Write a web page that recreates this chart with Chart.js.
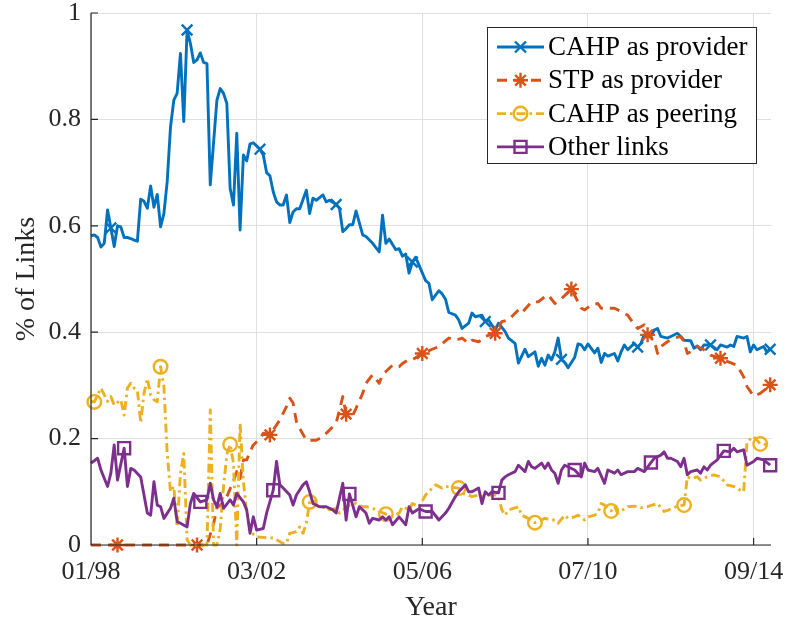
<!DOCTYPE html>
<html>
<head>
<meta charset="utf-8">
<script src="https://cdn.jsdelivr.net/npm/chart.js@4.4.1/dist/chart.umd.min.js"></script>
<style>
  html, body { margin: 0; padding: 0; background: #ffffff; }
  canvas { display: block; }
</style>
</head>
<body>
<canvas id="chart" width="787" height="620"></canvas>
<script>
// Months counted from 01/98; tick labels every 50 months.
const tickMonths = [0, 50, 100, 150, 200];
const tickLabels = ['01/98', '03/02', '05/06', '07/10', '09/14'];
const yTickValues = [0, 0.2, 0.4, 0.6, 0.8, 1];
const yTickLabels = ['0', '0.2', '0.4', '0.6', '0.8', '1'];

// CAHP as provider
const cahpMonths = [0,1,2,3,4,5,6,7,8,9,10,11,12,13,14,15,16,17,18,19,20,21,22,23,24,25,26,27,28,29,30,31,32,33,34,35,36,38,39,40,41,42,43,44,45,46,47,48,49,51,52,53,54,55,56,57,58,59,60,61,62,63,65,66,67,68,70,71,72,74,75,76,77,78,79,80,82,83,85,87,88,89,90,92,93,94,95,96,97,98,99,101,102,103,105,106,107,108,110,111,112,114,115,116,118,119,120,122,123,125,126,128,129,131,132,134,135,136,137,138,139,140,141,142,143,144,146,147,148,149,150,152,153,154,155,156,158,159,160,161,162,164,165,166,167,169,170,171,172,174,175,177,178,179,181,182,183,184,185,187,189,190,192,193,194,195,197,198,199,200,201,203,204,205];
const cahpValues = [0.581,0.583,0.578,0.560,0.567,0.630,0.596,0.561,0.600,0.598,0.578,0.578,0.576,0.573,0.571,0.650,0.646,0.633,0.675,0.635,0.659,0.598,0.623,0.683,0.786,0.836,0.849,0.924,0.796,0.968,0.943,0.907,0.912,0.925,0.907,0.905,0.677,0.836,0.858,0.849,0.830,0.670,0.639,0.774,0.592,0.733,0.722,0.754,0.756,0.744,0.733,0.700,0.694,0.664,0.645,0.639,0.639,0.658,0.606,0.626,0.632,0.632,0.667,0.623,0.652,0.648,0.658,0.645,0.648,0.640,0.633,0.589,0.595,0.602,0.602,0.628,0.583,0.580,0.567,0.551,0.620,0.567,0.575,0.555,0.557,0.543,0.547,0.511,0.532,0.541,0.526,0.497,0.492,0.461,0.478,0.472,0.462,0.437,0.432,0.423,0.407,0.417,0.436,0.429,0.432,0.420,0.423,0.404,0.417,0.401,0.389,0.379,0.342,0.368,0.354,0.363,0.336,0.351,0.338,0.357,0.348,0.363,0.389,0.349,0.343,0.333,0.353,0.378,0.376,0.367,0.378,0.361,0.370,0.343,0.360,0.355,0.360,0.346,0.363,0.376,0.367,0.379,0.372,0.379,0.395,0.392,0.404,0.407,0.392,0.389,0.392,0.398,0.392,0.385,0.384,0.370,0.374,0.367,0.376,0.376,0.367,0.376,0.372,0.376,0.373,0.392,0.389,0.392,0.363,0.376,0.367,0.373,0.363,0.368];
const cahpMarks = [6, 29, 51, 74, 97, 119, 142, 165, 187, 205];

// STP as provider
const stpMonths = [0,8,32,35,36,37,38,40,41,43,44,45,46,47,48,49,51,52,54,57,59,60,61,62,63,65,66,68,70,72,74,76,77,79,80,82,83,85,87,88,89,91,93,94,96,97,100,103,105,108,110,112,114,115,117,119,122,124,126,129,130,133,135,137,138,140,141,145,148,149,151,153,154,158,160,162,163,165,167,168,170,171,172,174,176,178,179,180,182,183,185,187,190,192,195,197,198,200,202,204,205];
const stpValues = [0,0,0,0,0.020,0.040,0.070,0.080,0.091,0.120,0.138,0.125,0.160,0.160,0.175,0.188,0.200,0.210,0.207,0.235,0.260,0.276,0.267,0.232,0.219,0.197,0.197,0.197,0.204,0.216,0.229,0.279,0.246,0.244,0.257,0.285,0.304,0.320,0.304,0.320,0.326,0.338,0.335,0.341,0.349,0.348,0.360,0.368,0.373,0.389,0.385,0.389,0.379,0.385,0.382,0.392,0.398,0.420,0.423,0.442,0.436,0.457,0.457,0.467,0.470,0.454,0.457,0.481,0.445,0.442,0.451,0.454,0.445,0.445,0.439,0.432,0.423,0.407,0.414,0.395,0.385,0.360,0.373,0.382,0.389,0.392,0.382,0.360,0.367,0.373,0.367,0.357,0.351,0.345,0.338,0.316,0.298,0.280,0.285,0.295,0.301];
const stpMarks = [8, 32, 54, 77, 100, 122, 145, 168, 190, 205];

// CAHP as peering
const peerMonths = [0,1,3,5,6,7,9,10,11,12,13,14,15,16,17,18,19,20,21,22,23,24,25,26,27,28,29,30,35,36,37,38,39,40,41,42,43,44,45,46,47,48,49,50,55,58,59,60,62,63,64,65,66,67,69,71,72,74,75,78,80,82,83,85,86,89,91,93,94,96,97,99,101,103,104,106,107,111,112,114,115,117,118,120,122,123,124,125,126,129,130,132,134,136,137,139,140,141,143,144,146,147,149,150,152,153,154,155,157,158,159,162,164,166,168,171,173,174,177,179,180,181,183,184,186,188,190,192,194,196,197,198,200,202,203,205];
const peerValues = [0.270,0.269,0.295,0.270,0.279,0.263,0.273,0.244,0.295,0.304,0.295,0.291,0.230,0.285,0.313,0.282,0.273,0.269,0.335,0.298,0.172,0.100,0.110,0.034,0.135,0.172,0.010,0,0,0.254,0,0,0.030,0.110,0.170,0.189,0.154,0,0.229,0.120,0.060,0.030,0.020,0.015,0.013,0.003,0.003,0.022,0.025,0.034,0.022,0.041,0.081,0.085,0.069,0.072,0.066,0.069,0.060,0.075,0.078,0.072,0.072,0.069,0.066,0.058,0.053,0.060,0.072,0.066,0.078,0.072,0.094,0.107,0.113,0.107,0.110,0.107,0.097,0.094,0.091,0.094,0.091,0.094,0.094,0.091,0.066,0.056,0.066,0.072,0.056,0.050,0.042,0.047,0.050,0.047,0.047,0.041,0.056,0.050,0.053,0.056,0.047,0.053,0.056,0.060,0.078,0.075,0.064,0.073,0.060,0.072,0.073,0.070,0.072,0.078,0.063,0.065,0.073,0.075,0.128,0.125,0.128,0.122,0.128,0.132,0.128,0.113,0.110,0.103,0.100,0.194,0.204,0.190,0.190,0.186];
const peerMarks = [1, 21, 42, 66, 89, 111, 134, 157, 179, 202];

// Other links
const otherMonths = [0,2,3,5,6,7,8,10,11,12,13,15,17,18,19,20,21,22,24,25,26,27,29,30,31,33,35,36,37,38,39,40,42,43,44,46,47,48,49,50,52,53,55,56,57,58,60,61,62,64,65,66,67,69,71,72,73,74,76,77,78,80,81,83,84,85,87,88,89,90,91,93,95,96,97,99,101,103,105,107,108,110,111,113,114,115,117,118,119,120,121,123,124,125,126,128,129,131,132,133,134,136,137,138,139,140,141,142,143,146,148,149,150,152,153,155,156,158,159,160,162,164,165,167,169,170,172,173,174,175,177,178,179,180,181,183,184,185,186,187,189,191,193,194,195,197,198,200,201,203,205];
const otherValues = [0.154,0.163,0.141,0.110,0.135,0.188,0.122,0.182,0.110,0.144,0.141,0.128,0.060,0.056,0.119,0.075,0.072,0.050,0.069,0.088,0.044,0.041,0.034,0.078,0.097,0.081,0.085,0.116,0.085,0.072,0.097,0.069,0.085,0.075,0.097,0.081,0.066,0.022,0.053,0.028,0.031,0.060,0.103,0.157,0.113,0.107,0.094,0.075,0.094,0.113,0.119,0.100,0.078,0.072,0.072,0.069,0.066,0.060,0.116,0.047,0.096,0.053,0.072,0.060,0.041,0.050,0.047,0.053,0.047,0.053,0.038,0.053,0.038,0.072,0.060,0.068,0.063,0.063,0.047,0.060,0.069,0.091,0.100,0.113,0.100,0.100,0.107,0.078,0.100,0.094,0.100,0.098,0.122,0.128,0.132,0.138,0.150,0.138,0.157,0.147,0.144,0.154,0.144,0.154,0.141,0.135,0.116,0.141,0.150,0.141,0.128,0.154,0.141,0.138,0.144,0.116,0.141,0.135,0.141,0.132,0.138,0.138,0.144,0.138,0.155,0.163,0.169,0.175,0.163,0.163,0.157,0.147,0.163,0.132,0.138,0.141,0.135,0.147,0.141,0.150,0.160,0.177,0.175,0.182,0.175,0.179,0.150,0.157,0.163,0.160,0.150];
const otherMarks = [10, 33, 55, 78, 101, 123, 146, 169, 191, 205];

const FONT = '"Liberation Serif", "Times New Roman", Times, serif';
const INK = '#262626';
const GRID = '#dfdfdf';
const LINE_W = 2.9;
const MARK_W = 2.4;

// Marker size per point style (Chart.js radius units)
const markerRadius = { crossRot: 7.5, star: 7.5, circle: 6.8, rect: 8.5 };

function makeSeries(label, months, values, marks, color, style, dash, order) {
  return {
    label,
    data: months.map((m, i) => ({ x: m, y: values[i] })),
    borderColor: color,
    borderWidth: LINE_W,
    borderDash: dash,
    borderJoinStyle: 'round',
    borderCapStyle: 'butt',
    tension: 0,
    fill: false,
    pointStyle: style,
    pointRadius: (ctx) => (ctx.type === 'data' && marks.includes(months[ctx.dataIndex])) ? markerRadius[style] : 0,
    pointHoverRadius: 0,
    pointBorderColor: color,
    pointBackgroundColor: 'rgba(0,0,0,0)',
    pointBorderWidth: MARK_W,
    clip: false,
    order
  };
}

const datasets = [
  makeSeries('CAHP as provider', cahpMonths, cahpValues, cahpMarks, '#0072BD', 'crossRot', [], 4),
  makeSeries('STP as provider', stpMonths, stpValues, stpMarks, '#D95319', 'star', [10, 7], 3),
  makeSeries('CAHP as peering', peerMonths, peerValues, peerMarks, '#EDB120', 'circle', [9, 4, 2.5, 4], 2),
  makeSeries('Other links', otherMonths, otherValues, otherMarks, '#7E2F8E', 'rect', [], 1)
];

// Axis lines and inward tick marks
const axesPlugin = {
  id: 'axesLines',
  afterDatasetsDraw(chart) {
    const { ctx, chartArea: a, scales } = chart;
    ctx.save();
    ctx.strokeStyle = INK;
    ctx.lineWidth = 1.2;
    ctx.setLineDash([]);
    ctx.beginPath();
    ctx.moveTo(a.left, a.top);
    ctx.lineTo(a.left, a.bottom);
    ctx.lineTo(a.right, a.bottom);
    const len = 7;
    yTickValues.forEach(v => {
      const y = scales.y.getPixelForValue(v);
      ctx.moveTo(a.left, y);
      ctx.lineTo(a.left + len, y);
    });
    tickMonths.forEach(m => {
      const x = scales.x.getPixelForValue(m);
      ctx.moveTo(x, a.bottom);
      ctx.lineTo(x, a.bottom - len);
    });
    ctx.stroke();
    ctx.restore();
  }
};

function drawMarker(ctx, style, x, y) {
  ctx.beginPath();
  if (style === 'crossRot') {
    const d = 5.5;
    ctx.moveTo(x - d, y - d); ctx.lineTo(x + d, y + d);
    ctx.moveTo(x - d, y + d); ctx.lineTo(x + d, y - d);
  } else if (style === 'star') {
    const r = 7.5, d = r * Math.SQRT1_2;
    ctx.moveTo(x - r, y); ctx.lineTo(x + r, y);
    ctx.moveTo(x, y - r); ctx.lineTo(x, y + r);
    ctx.moveTo(x - d, y - d); ctx.lineTo(x + d, y + d);
    ctx.moveTo(x - d, y + d); ctx.lineTo(x + d, y - d);
  } else if (style === 'circle') {
    ctx.arc(x, y, 6.8, 0, Math.PI * 2);
  } else if (style === 'rect') {
    const s = 6;
    ctx.rect(x - s, y - s, 2 * s, 2 * s);
  }
  ctx.stroke();
}

// Boxed legend with line + marker samples
const legendPlugin = {
  id: 'boxLegend',
  afterDraw(chart) {
    const { ctx, chartArea: a } = chart;
    const w = 269, h = 136;
    const left = a.right - 284, top = a.top + 14;
    ctx.save();
    ctx.fillStyle = '#ffffff';
    ctx.fillRect(left, top, w, h);
    ctx.strokeStyle = INK;
    ctx.lineWidth = 1;
    ctx.strokeRect(left + 0.5, top + 0.5, w, h);
    ctx.font = '27px ' + FONT;
    ctx.textBaseline = 'middle';
    ctx.textAlign = 'left';
    chart.data.datasets.forEach((ds, i) => {
      const y = top + 20 + i * 33.3;
      ctx.strokeStyle = ds.borderColor;
      ctx.lineWidth = LINE_W;
      ctx.setLineDash(ds.borderDash || []);
      ctx.beginPath();
      ctx.moveTo(left + 10, y);
      ctx.lineTo(left + 57, y);
      ctx.stroke();
      ctx.setLineDash([]);
      ctx.lineWidth = MARK_W;
      drawMarker(ctx, ds.pointStyle, left + 33.5, y);
      ctx.fillStyle = '#000000';
      ctx.fillText(ds.label, left + 61, y + 1);
    });
    ctx.restore();
  }
};

new Chart(document.getElementById('chart').getContext('2d'), {
  type: 'line',
  data: { datasets },
  options: {
    responsive: false,
    animation: false,
    devicePixelRatio: 1,
    events: [],
    layout: { padding: { left: 0, right: 16, top: 13, bottom: 0 } },
    plugins: { legend: { display: false }, tooltip: { enabled: false } },
    scales: {
      x: {
        type: 'linear',
        min: 0,
        max: 205.25,
        afterBuildTicks: (s) => { s.ticks = tickMonths.map(v => ({ value: v })); },
        afterFit: (s) => { s.height = 75; s.paddingLeft = 0; s.paddingRight = 0; },
        ticks: {
          callback: (v, i) => tickLabels[i],
          font: { family: FONT, size: 26 },
          color: INK,
          padding: 12,
          maxRotation: 0,
          autoSkip: false
        },
        grid: { color: GRID, lineWidth: 1, drawTicks: false },
        border: { display: false },
        title: {
          display: true,
          text: 'Year',
          font: { family: FONT, size: 28, lineHeight: 1 },
          color: INK,
          padding: { top: 0, bottom: -2 }
        }
      },
      y: {
        min: 0,
        max: 1,
        afterBuildTicks: (s) => { s.ticks = yTickValues.map(v => ({ value: v })); },
        afterFit: (s) => { s.width = 91; s.paddingTop = 0; s.paddingBottom = 0; },
        ticks: {
          callback: (v, i) => yTickLabels[i],
          font: { family: FONT, size: 26 },
          color: INK,
          padding: 10
        },
        grid: { color: GRID, lineWidth: 1, drawTicks: false },
        border: { display: false },
        title: {
          display: true,
          text: '% of Links',
          font: { family: FONT, size: 28, lineHeight: 1 },
          color: INK,
          padding: { top: 13, bottom: 0 }
        }
      }
    }
  },
  plugins: [axesPlugin, legendPlugin]
});
</script>
</body>
</html>
